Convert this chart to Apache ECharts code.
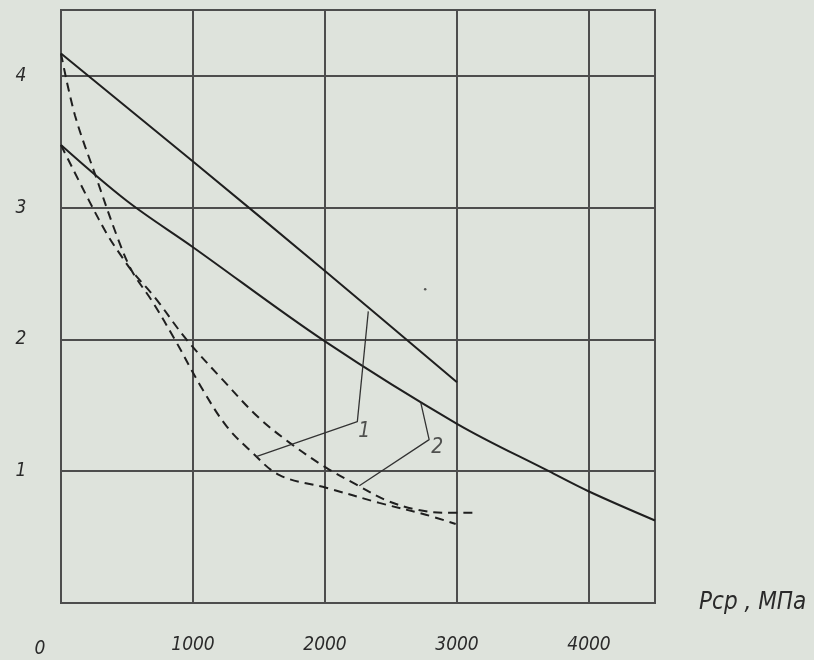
<!DOCTYPE html>
<html>
<head>
<meta charset="utf-8">
<script src="https://cdn.jsdelivr.net/npm/echarts@6/dist/echarts.min.js"></script>
<style>
html,body{margin:0;padding:0;background:#dee3dc;}
#c{width:814px;height:660px;}
</style>
</head>
<body>
<div id="c"></div>
<script>
// ---- data ----
var xTickLabels = ['0', '1000', '2000', '3000', '4000'];
var yTickLabels = ['', '1', '2', '3', '4'];
var xAxisName = 'Рср , МПа';

// curve 1 (solid) and curve 2 (solid)
var solid1 = [[0, 4.17], [1000, 3.35], [2000, 2.52], [3000, 1.675]];
var solid2 = [[0, 3.475], [500, 3.05], [1000, 2.70], [2000, 1.985], [3000, 1.36], [3696, 1.0], [4000, 0.846], [4500, 0.626]];

// dashed curves
var dashed1 = [[0, 4.17], [106, 3.70], [270, 3.22], [433, 2.76], [537, 2.52], [697, 2.28], [862, 2.0], [1073, 1.62], [1255, 1.34], [1430, 1.16], [1655, 0.97], [2008, 0.875], [2411, 0.76], [2764, 0.67], [2990, 0.60]];
var dashed2 = [[0, 3.475], [219, 3.04], [357, 2.785], [459, 2.63], [537, 2.52], [710, 2.32], [950, 2.0], [1224, 1.695], [1489, 1.415], [1731, 1.217], [2008, 1.027], [2235, 0.90], [2462, 0.78], [2688, 0.71], [2915, 0.685], [3145, 0.685]];

// leader lines and their numbers
var leader1 = [[1479, 1.11], [2245, 1.376], [2328, 2.213]];
var leader2 = [[2260, 0.89], [2789, 1.24], [2726, 1.519]];
var curveLabels = [[2298, 1.30, '1'], [2850, 1.18, '2']];
var strayDot = [[2759, 2.38]];

var FONT = '"Liberation Sans Narrow", "DejaVu Sans Condensed", "Liberation Sans", sans-serif';
var lineColor = '#1f1f1f';
var gridColor = '#4d4d4d';

var chart = echarts.init(document.getElementById('c'), null, {renderer: 'canvas'});

var option = {
  backgroundColor: '#dee3dc',
  animation: false,
  grid: {left: 61, top: 10, right: 159, bottom: 57, show: true, borderColor: gridColor, borderWidth: 2, backgroundColor: 'transparent', containLabel: false, outerBoundsMode: 'none'},
  xAxis: {
    type: 'value', min: 0, max: 4500, interval: 1000,
    axisLine: {show: true, lineStyle: {color: gridColor, width: 2}},
    axisTick: {show: false},
    splitLine: {show: true, lineStyle: {color: gridColor, width: 2}},
    axisLabel: {
      margin: 33,
      color: '#2a2a2a',
      fontFamily: FONT, fontStyle: 'italic', fontSize: 19,
      showMaxLabel: false,
      formatter: function (v) {
        var i = Math.round(v / 1000);
        var t = xTickLabels[i] !== undefined ? xTickLabels[i] : '';
        if (i === 0) return '{z|' + t + '}';
        return t;
      },
      rich: {z: {fontFamily: FONT, fontStyle: 'italic', fontSize: 19, color: '#2a2a2a', padding: [4, 42, 0, 0]}}
    },
    name: xAxisName, nameLocation: 'end', nameGap: 44,
    nameTextStyle: {fontFamily: FONT, fontStyle: 'italic', fontSize: 24, color: '#2a2a2a', align: 'left', verticalAlign: 'middle', padding: [0, 0, 22, 0]}
  },
  yAxis: {
    type: 'value', min: 0, max: 4.5, interval: 1,
    axisLine: {show: true, lineStyle: {color: gridColor, width: 2}},
    axisTick: {show: false},
    splitLine: {show: true, lineStyle: {color: gridColor, width: 2}},
    axisLabel: {
      margin: 40, align: 'center', verticalAlign: 'middle',
      padding: [0, 0, 11, 0],
      color: '#2a2a2a',
      fontFamily: FONT, fontStyle: 'italic', fontSize: 19,
      showMaxLabel: false,
      formatter: function (v) {
        var i = Math.round(v);
        return yTickLabels[i] !== undefined && Math.abs(v - i) < 1e-6 ? yTickLabels[i] : '';
      }
    }
  },
  series: [
    {type: 'line', data: solid1, smooth: 0.35, showSymbol: false, lineStyle: {color: lineColor, width: 2}},
    {type: 'line', data: solid2, smooth: 0.35, showSymbol: false, lineStyle: {color: lineColor, width: 2}},
    {type: 'line', data: dashed1, smooth: 0.35, showSymbol: false, lineStyle: {color: lineColor, width: 2, type: [9, 6]}},
    {type: 'line', data: dashed2, smooth: 0.35, showSymbol: false, lineStyle: {color: lineColor, width: 2, type: [9, 6]}},
    {type: 'line', data: leader1, smooth: false, showSymbol: false, lineStyle: {color: '#333', width: 1.3}},
    {type: 'line', data: leader2, smooth: false, showSymbol: false, lineStyle: {color: '#333', width: 1.3}},
    {type: 'scatter', data: strayDot, symbolSize: 2.5, itemStyle: {color: '#333'}},
    {type: 'scatter', data: curveLabels, symbolSize: 0,
      label: {show: true, position: 'inside', formatter: function (p) { return p.data[2]; },
        fontFamily: FONT, fontStyle: 'italic', fontSize: 21, color: '#2a2a2a'}}
  ]
};
chart.setOption(option);
</script>
</body>
</html>
